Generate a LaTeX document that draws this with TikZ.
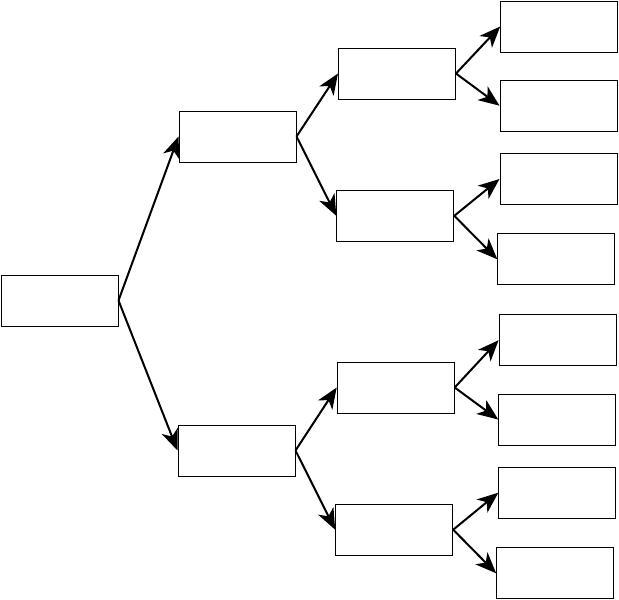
\documentclass[tikz,border=0pt]{standalone}
\usepackage{tikz}
\usetikzlibrary{arrows.meta}
\tikzset{
	box/.style={rectangle,draw,line width=1pt,minimum width=117pt,minimum height=51pt,inner sep=0pt},
	arr/.style={line width=2pt,-{Stealth[length=21pt,width=17pt,inset=6pt]}}
}
\begin{document}
\begin{tikzpicture}[x=1pt,y=-1pt]
							\useasboundingbox (0,0) rectangle (619,600);
							\node [box] (r) at (59.5,300.5) {};
							\node [box] (a) at (237.5,136.5) {};
							\node [box] (b) at (236.5,450.5) {};
							\node [box] (aa) at (397,73.5) {};
							\node [box] (ab) at (395.3,215.8) {};
							\node [box] (ba) at (395.7,387.5) {};
							\node [box] (bb) at (394.2,529.7) {};
							\node [box] (aaa) at (559.2,26.5) {};
							\node [box] (aab) at (558.5,105.7) {};
							\node [box] (aba) at (558.5,179) {};
							\node [box] (abb) at (556.3,259.3) {};
							\node [box] (baa) at (557.6,340.2) {};
							\node [box] (bab) at (557.2,419.5) {};
							\node [box] (bba) at (557.3,492.7) {};
							\node [box] (bbb) at (555.2,573.3) {};

							\draw [arr] (r.east) -- (a.west);
							\draw [arr] (r.east) -- (b.west);
							\draw [arr] (a.east) -- (aa.west);
							\draw [arr] (a.east) -- (ab.west);
							\draw [arr] (b.east) -- (ba.west);
							\draw [arr] (b.east) -- (bb.west);
							\draw [arr] (aa.east) -- (aaa.west);
							\draw [arr] (aa.east) -- (aab.west);
							\draw [arr] (ab.east) -- (aba.west);
							\draw [arr] (ab.east) -- (abb.west);
							\draw [arr] (ba.east) -- (baa.west);
							\draw [arr] (ba.east) -- (bab.west);
							\draw [arr] (bb.east) -- (bba.west);
							\draw [arr] (bb.east) -- (bbb.west);
						\end{tikzpicture}
\end{document}
